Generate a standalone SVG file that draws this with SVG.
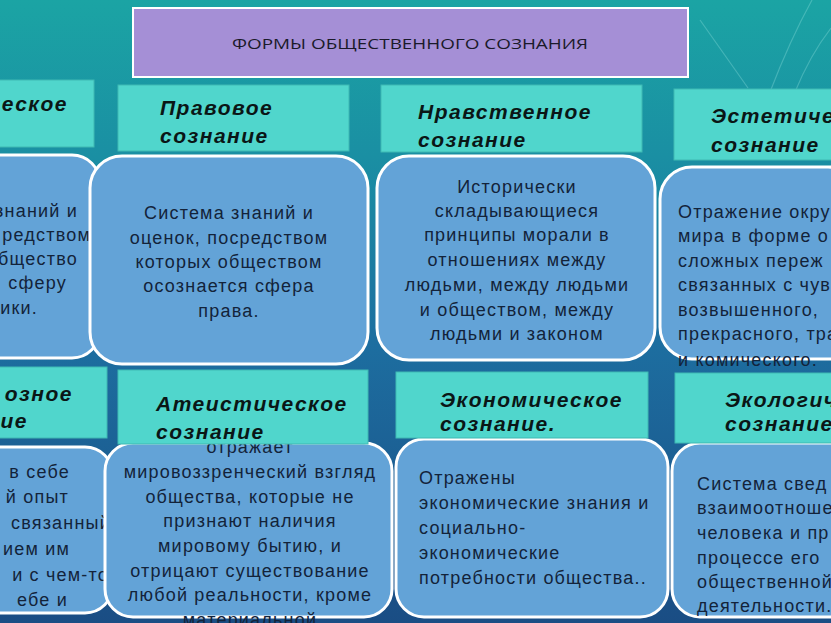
<svg xmlns="http://www.w3.org/2000/svg" width="831" height="623" viewBox="0 0 831 623">
<defs>
<linearGradient id="bg" x1="0" y1="0" x2="0" y2="1">
<stop offset="0" stop-color="#1ba4a4"/>
<stop offset="0.25" stop-color="#1a8fa3"/>
<stop offset="0.55" stop-color="#1d6ea0"/>
<stop offset="1" stop-color="#1a4d84"/>
</linearGradient>
<style>
.hdr{fill:#50d6cc;stroke:#3fb9b3;stroke-width:1}
.box{fill:#63a3d7;stroke:#ffffff;stroke-width:3}
.ht{font-family:"Liberation Sans",Arial,sans-serif;font-size:21px;font-weight:bold;font-style:italic;fill:#0a1616;letter-spacing:1.5px}
.bt{font-family:"Liberation Sans",Arial,sans-serif;font-size:18px;fill:#13233a;letter-spacing:1.2px}
.c{text-anchor:middle}
.e{text-anchor:end}
.deco{fill:none;stroke:#8fe0dc;stroke-opacity:0.35;stroke-width:1.2}
</style>
</defs>
<rect x="0" y="0" width="831" height="623" fill="url(#bg)"/>
<g id="decor">
<path class="deco" d="M770 92 Q790 40 812 0"/>
<path class="deco" d="M795 92 Q810 55 831 28"/>
<path class="deco" d="M700 20 L748 88"/>
</g>
<g id="connectors"/>
<g id="title">
<rect x="133" y="8" width="555" height="69" fill="#a58fd6" stroke="#ffffff" stroke-width="2"/>
<text x="410" y="49" font-family="'Open Sans','Liberation Sans',sans-serif" font-size="14.5" fill="#1a1a2a" text-anchor="middle" textLength="356" lengthAdjust="spacingAndGlyphs">ФОРМЫ ОБЩЕСТВЕННОГО СОЗНАНИЯ</text>
</g>
<g id="political">
<rect class="box" x="-30" y="155" width="130" height="203" rx="28"/>
<text class="bt e" x="78" y="217">знаний и</text>
<text class="bt e" x="91" y="241">редством</text>
<text class="bt e" x="78" y="265">бщество</text>
<text class="bt e" x="67" y="289">сферу</text>
<text class="bt e" x="38" y="314">ики.</text>
<rect class="hdr" x="-10" y="80" width="104" height="67"/>
<text class="ht e" x="68" y="111">ческое</text>
</g>
<g id="legal">
<rect class="box" x="90" y="156" width="278" height="208" rx="32"/>
<text class="bt c" x="229" y="219">Система знаний и</text>
<text class="bt c" x="229" y="244">оценок, посредством</text>
<text class="bt c" x="229" y="268">которых обществом</text>
<text class="bt c" x="229" y="292">осознается сфера</text>
<text class="bt c" x="229" y="317">права.</text>
<rect class="hdr" x="118" y="85" width="231" height="66"/>
<text class="ht" x="160" y="115">Правовое</text>
<text class="ht" x="160" y="143">сознание</text>
</g>
<g id="moral">
<rect class="box" x="377" y="156" width="278" height="204" rx="32"/>
<text class="bt c" x="517" y="193">Исторически</text>
<text class="bt c" x="517" y="217">складывающиеся</text>
<text class="bt c" x="517" y="241">принципы морали в</text>
<text class="bt c" x="517" y="266">отношениях между</text>
<text class="bt c" x="517" y="291">людьми, между людьми</text>
<text class="bt c" x="517" y="316">и обществом, между</text>
<text class="bt c" x="517" y="340">людьми и законом</text>
<rect class="hdr" x="381" y="85" width="261" height="67"/>
<text class="ht" x="418" y="119">Нравственное</text>
<text class="ht" x="418" y="147">сознание</text>
</g>
<g id="aesthetic">
<rect class="box" x="660" y="167" width="200" height="192" rx="32"/>
<text class="bt" x="678" y="218">Отражение окру</text>
<text class="bt" x="678" y="242">мира в форме о</text>
<text class="bt" x="678" y="267">сложных переж</text>
<text class="bt" x="678" y="291">связанных с чув</text>
<text class="bt" x="678" y="316">возвышенного,</text>
<text class="bt" x="678" y="340">прекрасного, тра</text>
<text class="bt" x="678" y="366">и комического.</text>
<rect class="hdr" x="674" y="89" width="170" height="71"/>
<text class="ht" x="711" y="123">Эстетиче</text>
<text class="ht" x="711" y="152">сознание</text>
</g>
<g id="religious">
<rect class="box" x="-30" y="447" width="143" height="166" rx="28"/>
<text class="bt e" x="70" y="478">в себе</text>
<text class="bt e" x="69" y="503">й опыт</text>
<text class="bt e" x="111" y="529">связанный</text>
<text class="bt e" x="70" y="555">ием им</text>
<text class="bt e" x="109" y="581">и с чем-то</text>
<text class="bt e" x="68" y="606">ебе и</text>
<rect class="hdr" x="-10" y="367" width="117" height="71"/>
<text class="ht e" x="73" y="401">озное</text>
<text class="ht e" x="28" y="428">ие</text>
</g>
<g id="atheist">
<rect class="box" x="105" y="443" width="287" height="174" rx="28"/>
<text class="bt c" x="250" y="453">отражает</text>
<text class="bt c" x="250" y="478">мировоззренческий взгляд</text>
<text class="bt c" x="250" y="503">общества, которые не</text>
<text class="bt c" x="250" y="527">признают наличия</text>
<text class="bt c" x="250" y="552">мировому бытию, и</text>
<text class="bt c" x="250" y="577">отрицают существование</text>
<text class="bt c" x="250" y="601">любой реальности, кроме</text>
<text class="bt c" x="250" y="626">материальной</text>
<rect class="hdr" x="118" y="370" width="250" height="74"/>
<text class="ht" x="156" y="411">Атеистическое</text>
<text class="ht" x="156" y="439">сознание</text>
</g>
<g id="economic">
<rect class="box" x="396" y="439" width="272" height="178" rx="28"/>
<text class="bt" x="419" y="484">Отражены</text>
<text class="bt" x="419" y="509">экономические знания и</text>
<text class="bt" x="419" y="534">социально-</text>
<text class="bt" x="419" y="559">экономические</text>
<text class="bt" x="419" y="584">потребности общества..</text>
<rect class="hdr" x="396" y="372" width="252" height="66"/>
<text class="ht" x="440" y="407">Экономическое</text>
<text class="ht" x="440" y="431">сознание.</text>
</g>
<g id="ecological">
<rect class="box" x="672" y="443" width="190" height="174" rx="28"/>
<text class="bt" x="697" y="490">Система свед</text>
<text class="bt" x="697" y="514">взаимоотноше</text>
<text class="bt" x="697" y="539">человека и пр</text>
<text class="bt" x="697" y="564">процессе его</text>
<text class="bt" x="697" y="588">общественной</text>
<text class="bt" x="697" y="612">деятельности.</text>
<rect class="hdr" x="675" y="373" width="170" height="70"/>
<text class="ht" x="725" y="407">Экологич</text>
<text class="ht" x="725" y="431">сознание</text>
</g>
</svg>
